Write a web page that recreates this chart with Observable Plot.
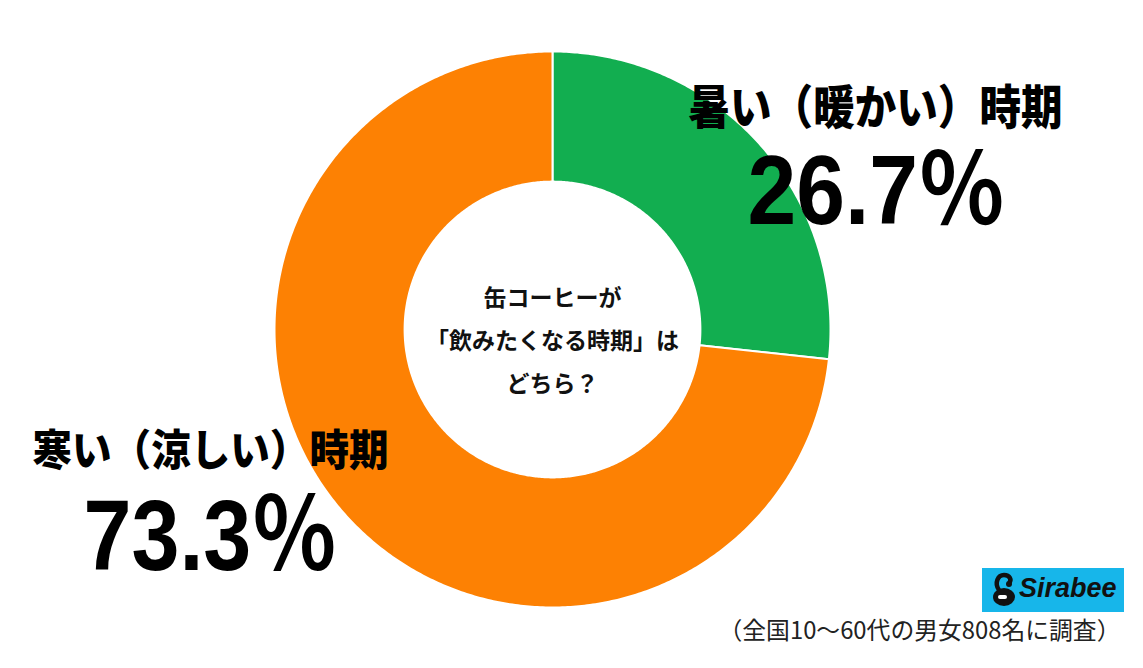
<!DOCTYPE html>
<html>
<head>
<meta charset="utf-8">
<script src="https://cdn.jsdelivr.net/npm/d3@7"></script>
<script src="https://cdn.jsdelivr.net/npm/@observablehq/plot@0.6"></script>
<style>
  html, body { margin: 0; padding: 0; background: #fff; }
  #wrap { position: relative; width: 1143px; height: 668px; overflow: hidden; }
  #logo { position: absolute; left: 982px; top: 568px; width: 142px; height: 44px; background: #17b6ea; }
  #logo span { position: absolute; left: 37px; top: 5px; font-family: "Liberation Sans", Arial, sans-serif; font-weight: bold; font-style: italic; font-size: 27px; color: #111; }
</style>
</head>
<body>
<div id="wrap"></div>
<script>
// ---- data ----
const categories = ["暑い（暖かい）時期", "寒い（涼しい）時期"];
const values = [26.7, 73.3];
const valueLabels = ["26.7％", "73.3％"];
const colors = ["#12ae50", "#fd8103"];
const centerLines = ["缶コーヒーが", "「飲みたくなる時期」は", "どちら？"];
const footnote = "（全国10～60代の男女808名に調査）";

// ---- build donut slice outlines from the values ----
const innerRatio = 0.532;
const pie = d3.pie().sort(null).value(d => d.value);
const arcs = pie(categories.map((c, i) => ({category: c, value: values[i]})));
const polys = [];
for (const a of arcs) {
  const n = Math.max(8, Math.ceil((a.endAngle - a.startAngle) / 0.01));
  const outer = d3.range(n + 1).map(k => a.startAngle + (a.endAngle - a.startAngle) * k / n);
  for (const t of outer) polys.push({category: a.data.category, x: Math.sin(t), y: Math.cos(t)});
  for (const t of outer.slice().reverse()) polys.push({category: a.data.category, x: innerRatio * Math.sin(t), y: innerRatio * Math.cos(t)});
}

const jp = "'Noto Sans CJK JP', sans-serif";
const num = "'Liberation Sans', Arial, 'Noto Sans CJK JP', sans-serif";
const base = {frameAnchor: "top-left", textAnchor: "middle", lineAnchor: "middle", text: d => d, fill: "#000"};

const chart = Plot.plot({
  width: 1143,
  height: 668,
  margin: 0,
  x: {domain: [-1, 1], range: [274, 830], axis: null},
  y: {domain: [-1, 1], range: [607, 51], axis: null},
  color: {domain: categories, range: colors},
  style: {background: "#fff"},
  marks: [
    Plot.line(polys, {x: "x", y: "y", z: "category", fill: "category", stroke: "#fff", strokeWidth: 2, curve: "linear-closed"}),
    // big category labels
    Plot.text([categories[0]], {...base, dx: 875, dy: 108, fontFamily: jp, fontWeight: 900, fontSize: 47}),
    Plot.text([valueLabels[0]], {...base, dx: 876, dy: 192, fontFamily: num, fontWeight: "bold", fontSize: 98}),
    Plot.text([categories[1]], {...base, dx: 210, dy: 452, fontFamily: jp, fontWeight: 900, fontSize: 43}),
    Plot.text([valueLabels[1]], {...base, dx: 210, dy: 537, fontFamily: num, fontWeight: "bold", fontSize: 100}),
    // center question (three lines)
    Plot.text([centerLines.join("\n")], {...base, dx: 552, dy: 335, lineHeight: 1.87, fontFamily: jp, fontWeight: "bold", fontSize: 23, fill: "#111"}),
    // footnote
    Plot.text([footnote], {...base, dx: 1120, dy: 631, textAnchor: "end", fontFamily: jp, fontSize: 24, fill: "#222"})
  ]
});

// fit label widths to the reference
const fit = {
  [categories[0]]: 374,
  [categories[1]]: 356,
  [valueLabels[0]]: 258,
  [valueLabels[1]]: 254,
  [footnote]: 402
};
chart.querySelectorAll("text").forEach(t => {
  const s = t.textContent;
  if (fit[s]) {
    t.setAttribute("textLength", fit[s]);
    t.setAttribute("lengthAdjust", "spacingAndGlyphs");
  }
});

const wrap = document.getElementById("wrap");
wrap.appendChild(chart);
const logo = document.createElement("div");
logo.id = "logo";
logo.innerHTML = `<svg width="36" height="44" style="position:absolute;left:4px;top:0">
  <ellipse cx="18" cy="29" rx="11" ry="9" fill="#111"/>
  <path d="M13 22 C 8 15, 12 7, 18 7 C 24 7, 26 12, 23 15" fill="none" stroke="#111" stroke-width="4.5"/>
  <circle cx="23" cy="16" r="3" fill="#111"/>
  <rect x="12" y="27" width="9" height="4" rx="2" fill="#fff"/>
</svg><span>Sirabee</span>`;
wrap.appendChild(logo);
</script>
</body>
</html>
